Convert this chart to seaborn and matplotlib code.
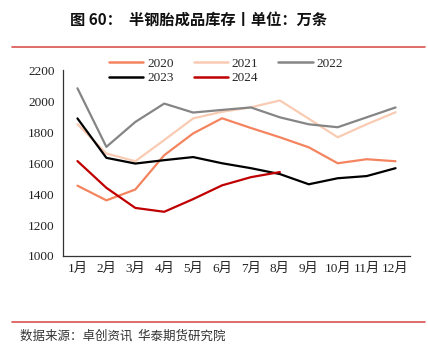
import matplotlib
matplotlib.use("Agg")
import matplotlib.pyplot as plt
import seaborn as sns
import pandas as pd
import numpy as np
from matplotlib.lines import Line2D

months = ["1月", "2月", "3月", "4月", "5月", "6月", "7月", "8月", "9月", "10月", "11月", "12月"]
v2020 = [1455, 1360, 1430, 1652, 1793, 1891, 1828, 1768, 1703, 1600, 1626, 1613]
v2021 = [1853, 1663, 1613, 1750, 1890, 1933, 1962, 2006, 1888, 1768, 1852, 1930]
v2022 = [2085, 1706, 1867, 1986, 1928, 1945, 1961, 1897, 1852, 1833, 1897, 1961]
v2023 = [1890, 1635, 1598, 1620, 1640, 1600, 1568, 1530, 1464, 1503, 1517, 1568]
v2024 = [1614, 1441, 1311, 1286, 1368, 1457, 1510, 1543]
years = ["2020", "2021", "2022", "2023", "2024"]
series = [v2020, v2021, v2022, v2023, v2024]
colors = {"2020": "#F4845F", "2021": "#F9CBB3", "2022": "#858585",
          "2023": "#000000", "2024": "#C00000"}

rows = []
for y, vals in zip(years, series):
    for i, v in enumerate(vals):
        rows.append({"year": y, "idx": i, "value": v})
df = pd.DataFrame(rows)

sns.set_theme(style="white")
plt.rcParams["font.family"] = ["Liberation Serif", "Noto Sans CJK SC"]

fig = plt.figure(figsize=(4.28, 3.46), dpi=100)
ax = fig.add_axes([63/428, 1-256/346, (410-63)/428, (256-70.5)/346])

sns.lineplot(data=df, x="idx", y="value", hue="year", palette=colors,
             linewidth=1.6, ax=ax, legend=False, sort=False)

ax.set_xlim(-0.5, 11.5)
ax.set_ylim(1000, 2200)
ax.set_yticks(np.arange(1000, 2201, 200))
ax.set_yticklabels([str(v) for v in range(1000, 2201, 200)], fontsize=9.5, color="#222222")
ax.set_xticks(np.arange(-0.5, 12, 1))
ax.set_xticklabels([])
ax.set_xticks(np.arange(12), minor=True)
ax.set_xticklabels(months, minor=True, fontsize=9.5, color="#222222")
ax.tick_params(axis="x", which="major", direction="in", length=4, width=0.8, color="#333333")
ax.tick_params(axis="x", which="minor", length=0, pad=5)
ax.tick_params(axis="y", direction="out", length=4, width=0.8, color="#333333", pad=2)
ax.set_xlabel("")
ax.set_ylabel("")
for s in ["top", "right"]:
    ax.spines[s].set_visible(False)
for s in ["left", "bottom"]:
    ax.spines[s].set_color("#333333")
    ax.spines[s].set_linewidth(0.9)

order = ["2020", "2023", "2021", "2024", "2022"]
handles = [Line2D([0], [0], color=colors[y], lw=1.8) for y in order]
leg = fig.legend(handles, order, loc="center", bbox_to_anchor=(226/428, 1-71/346),
                 ncol=3, frameon=False, fontsize=9.5, handlelength=2.6,
                 handletextpad=0.3, columnspacing=1.5, labelspacing=0.15)

fig.text(70/428, 1-20/346, "图 60：  半钢胎成品库存丨单位：万条",
         family=["Noto Sans CJK SC", "DejaVu Sans"], fontweight="bold",
         fontsize=11, va="center", ha="left", color="#111111")
fig.add_artist(Line2D([12/428, 425/428], [1-47/346, 1-47/346], color="#D9534F", lw=1.2))
fig.add_artist(Line2D([12/428, 425/428], [1-322/346, 1-322/346], color="#D9534F", lw=1.2))
fig.text(20/428, 1-336/346, "数据来源：卓创资讯  华泰期货研究院",
         family=["Noto Sans CJK SC", "DejaVu Sans"], fontsize=9,
         va="center", ha="left", color="#333333")

fig.savefig("out.png", dpi=100, facecolor="white")
